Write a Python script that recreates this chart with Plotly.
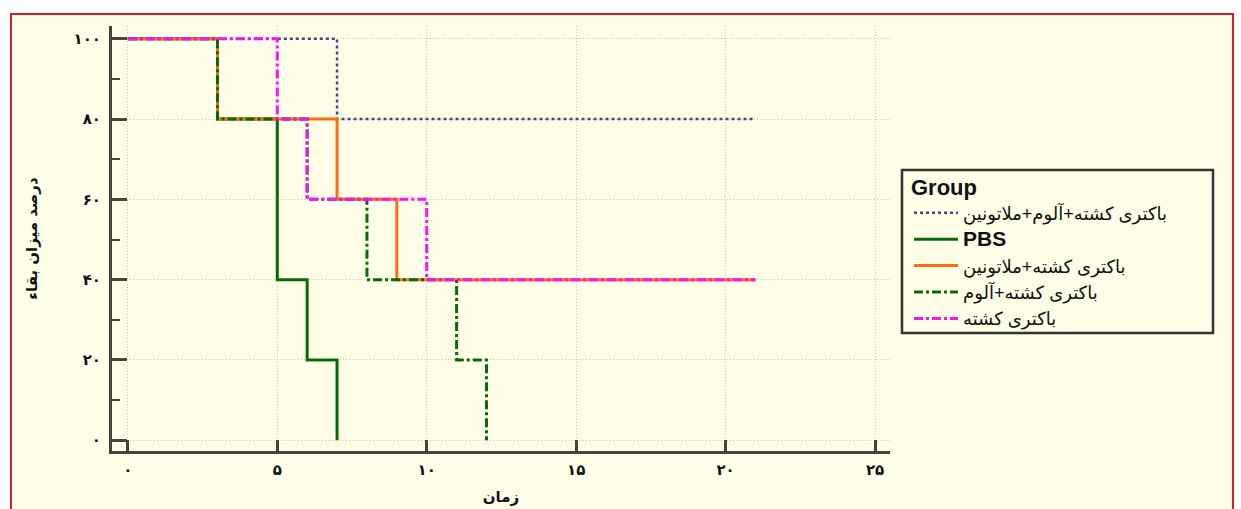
import plotly.graph_objects as go

# ---- data (Kaplan-Meier step survival) ----
group_names = [
    "باکتری کشته+آلوم+ملاتونین",
    "PBS",
    "باکتری کشته+ملاتونین",
    "باکتری کشته+آلوم",
    "باکتری کشته",
]
times_alum_mel = [0, 7, 21]
surv_alum_mel = [100, 80, 80]
times_pbs = [0, 3, 5, 6, 7]
surv_pbs = [100, 80, 40, 20, 0]
times_mel = [0, 3, 7, 9, 21]
surv_mel = [100, 80, 60, 40, 40]
times_alum = [0, 3, 6, 8, 11, 12]
surv_alum = [100, 80, 60, 40, 20, 0]
times_killed = [0, 5, 6, 10, 21]
surv_killed = [100, 80, 60, 40, 40]

x_tickvals = [0, 5, 10, 15, 20, 25]
x_ticktext = ["۰", "۵", "۱۰", "۱۵", "۲۰", "۲۵"]
y_tickvals = [0, 20, 40, 60, 80, 100]
y_ticktext = ["۰", "۲۰", "۴۰", "۶۰", "۸۰", "۱۰۰"]
y_minor = [10, 30, 50, 70, 90]

x_title = "زمان"
y_title = "درصد میزان بقاء"
legend_title = "Group"

FONT = "Liberation Sans, Arial, DejaVu Sans, sans-serif"
BG = "#FEFDE8"
AXC = "#474440"
GRID = "#C9C5B8"

series = [
    (times_alum_mel, surv_alum_mel, group_names[0], "#45458F", "dot", 2.5),
    (times_pbs, surv_pbs, "<b><span style='font-size:21px'>" + group_names[1] + "</span></b>", "#086A08", "solid", 3),
    (times_mel, surv_mel, group_names[2], "#FF6E0A", "solid", 3),
    (times_alum, surv_alum, group_names[3], "#086A08", "dashdot", 3),
    (times_killed, surv_killed, group_names[4], "#FF10F0", "dashdot", 3),
]

fig = go.Figure()
for xs, ys, name, color, dash, w in series:
    fig.add_trace(go.Scatter(
        x=xs, y=ys, name=name, mode="lines", line_shape="hv",
        line=dict(color=color, dash=dash, width=w),
    ))

W, H = 1241, 509
L, R, T, B = 112, 890, 26, 451

def px(x):
    return (x - L) / (R - L)

def py(y):
    return (B - y) / (B - T)

# outer framed panel
fig.add_shape(type="rect", xref="paper", yref="paper",
              x0=px(11), x1=px(1233), y0=py(540), y1=py(14),
              fillcolor=BG, line=dict(color="#D42020", width=2), layer="below")
# legend frame
fig.add_shape(type="rect", xref="paper", yref="paper",
              x0=px(902), x1=px(1213), y0=py(333), y1=py(170),
              fillcolor=BG, line=dict(color="#333", width=2.5), layer="below")

fig.update_layout(
    width=W, height=H,
    margin=dict(l=L, r=W - R, t=T, b=H - B, autoexpand=False),
    paper_bgcolor="white", plot_bgcolor=BG,
    font=dict(family=FONT, color="#111"),
    showlegend=True,
    legend=dict(
        x=px(909), y=py(166), xanchor="left", yanchor="top",
        bgcolor="rgba(0,0,0,0)", borderwidth=0,
        font=dict(size=18, family=FONT, color="#111"),
        title=dict(text="<b>" + legend_title + "</b>", font=dict(size=22, family=FONT)),
        itemwidth=44, tracegroupgap=0,
    ),
)

fig.update_xaxes(
    range=[-0.53, 25.5], tickmode="array", tickvals=x_tickvals, ticktext=x_ticktext,
    ticks="inside", ticklen=11, tickwidth=3, tickcolor=AXC,
    showline=True, linecolor=AXC, linewidth=3, mirror=False,
    showgrid=True, gridcolor=GRID, griddash="1px,2px", gridwidth=1,
    zeroline=False, ticklabelstandoff=3,
    tickfont=dict(size=15, family="DejaVu Sans", color="#111", weight="bold"),
    title=dict(text=x_title, font=dict(size=15, family="DejaVu Sans", weight="bold"), standoff=14),
)
fig.update_yaxes(
    range=[-2.7, 103.2], tickmode="array", tickvals=y_tickvals, ticktext=y_ticktext,
    ticks="inside", ticklen=15, tickwidth=3, tickcolor=AXC,
    minor=dict(tickmode="array", tickvals=y_minor, ticks="inside", ticklen=8,
               tickwidth=2, tickcolor=AXC, showgrid=False),
    showline=True, linecolor=AXC, linewidth=3, mirror=False,
    showgrid=True, gridcolor=GRID, griddash="1px,2px", gridwidth=1,
    zeroline=False, ticklabelstandoff=5,
    tickfont=dict(size=15, family="DejaVu Sans", color="#111", weight="bold"),
    title=dict(text=y_title, font=dict(size=15, family="DejaVu Sans", weight="bold"), standoff=33),
)

fig.write_html("out.html", config={"displayModeBar": False},
               post_script="document.body.style.margin='0';document.body.style.padding='0';")
